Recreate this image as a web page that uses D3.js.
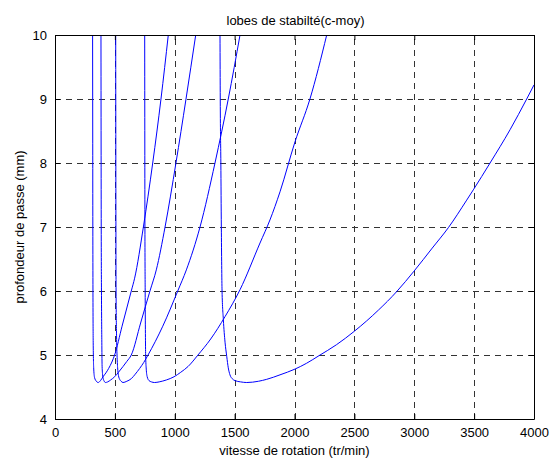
<!DOCTYPE html>
<html><head><meta charset="utf-8">
<script src="https://cdn.jsdelivr.net/npm/d3@7/dist/d3.min.js"></script>
<style>
body{margin:0;background:#fff}
text{font-family:"Liberation Sans",Arial,Helvetica,sans-serif;font-size:13px;fill:#000}
</style>
</head><body>
<svg id="chart" width="550" height="460"></svg>
<script>
// ---- data ----
const xTickValues = [0, 500, 1000, 1500, 2000, 2500, 3000, 3500, 4000];
const yTickValues = [4, 5, 6, 7, 8, 9, 10];
const titleText = "lobes de stabilté(c-moy)";
const xLabelText = "vitesse de rotation (tr/min)";
const yLabelText = "profondeur de passe (mm)";

const lobeA_rpm   = [314, 315, 316, 317, 319, 323, 330, 345, 360, 380, 401, 425, 448, 475, 498, 560, 637, 665, 738, 816, 885, 946];
const lobeA_depth = [10, 8.5, 7, 6, 5.2, 4.8, 4.65, 4.59, 4.57, 4.6, 4.66, 4.72, 4.79, 4.89, 5.0, 5.45, 6.0, 6.2, 7.0, 8.0, 9.0, 10.0];

const lobeB_rpm   = [384, 386, 388, 391, 393, 397, 403, 411, 421, 440, 465, 498, 530, 568, 600, 637, 715, 793, 846, 919, 1010, 1094, 1175];
const lobeB_depth = [10, 7, 6, 5.2, 4.85, 4.7, 4.63, 4.59, 4.57, 4.58, 4.61, 4.66, 4.73, 4.82, 4.9, 5.0, 5.5, 6.0, 6.33, 7.0, 8.0, 9.0, 10.0];

const lobeC_rpm   = [507, 508, 510, 514, 518, 523, 530, 540, 552, 568, 600, 637, 670, 707, 740, 777, 900, 1025, 1097, 1211, 1336, 1447, 1545];
const lobeC_depth = [10, 8, 6, 5.3, 5.0, 4.8, 4.68, 4.62, 4.59, 4.57, 4.59, 4.63, 4.7, 4.79, 4.88, 5.0, 5.45, 6.0, 6.33, 7.0, 8.0, 9.0, 10.0];

const lobeD_rpm   = [749, 751, 753, 757, 762, 770, 785, 805, 832, 870, 930, 994, 1050, 1111, 1194, 1300, 1420, 1545, 1712, 1795, 1879, 2004, 2129, 2269];
const lobeD_depth = [10, 7, 6, 5.0, 4.78, 4.66, 4.6, 4.58, 4.57, 4.58, 4.61, 4.66, 4.73, 4.82, 5.0, 5.25, 5.6, 6.02, 6.75, 7.11, 7.55, 8.33, 9.0, 10.0];

const lobeE_rpm   = [1378, 1380, 1385, 1389, 1395, 1406, 1420, 1434, 1447, 1461, 1480, 1503, 1550, 1601, 1700, 1768, 1879, 2004, 2100, 2205, 2350, 2499, 2700, 2853, 2998, 3150, 3285, 3438, 3493, 3633, 3800, 3939, 4000];
const lobeE_depth = [10, 9, 8, 7, 6.0, 5.55, 5.2, 4.98, 4.8, 4.69, 4.63, 4.6, 4.58, 4.57, 4.59, 4.62, 4.69, 4.78, 4.87, 4.99, 5.16, 5.37, 5.7, 5.99, 6.31, 6.67, 6.99, 7.42, 7.58, 8.0, 8.52, 9.0, 9.22];

const lobes = [
  [lobeA_rpm, lobeA_depth],
  [lobeB_rpm, lobeB_depth],
  [lobeC_rpm, lobeC_depth],
  [lobeD_rpm, lobeD_depth],
  [lobeE_rpm, lobeE_depth]
].map(([r, d]) => r.map((v, i) => ({rpm: v, depth: d[i]})));

// ---- layout ----
const mL = 55, mR = 534, mT = 35, mB = 419;
const svg = d3.select("#chart");
svg.append("rect").attr("width", 550).attr("height", 460).attr("fill", "#fff");

const x = d3.scaleLinear().domain([0, 4000]).range([mL, mR]);
const y = d3.scaleLinear().domain([4, 10]).range([mB, mT]);

svg.append("defs").append("clipPath").attr("id", "clip")
  .append("rect").attr("x", mL).attr("y", mT).attr("width", mR - mL).attr("height", mB - mT);

// grid
const grid = svg.append("g").attr("stroke", "#333").attr("stroke-width", 1)
  .attr("stroke-dasharray", "6,5").attr("shape-rendering", "crispEdges");
grid.selectAll(".gx").data(xTickValues.slice(1, -1)).enter().append("line")
  .attr("x1", d => Math.round(x(d)) + 0.5).attr("x2", d => Math.round(x(d)) + 0.5)
  .attr("y1", mB).attr("y2", mT);
grid.selectAll(".gy").data(yTickValues.slice(1, -1)).enter().append("line")
  .attr("y1", d => Math.round(y(d)) + 0.5).attr("y2", d => Math.round(y(d)) + 0.5)
  .attr("x1", mL).attr("x2", mR);

// curves
const line = d3.line().x(d => x(d.rpm)).y(d => y(d.depth)).curve(d3.curveMonotoneX);
svg.append("g").attr("clip-path", "url(#clip)")
  .selectAll("path").data(lobes).enter().append("path")
  .attr("d", line).attr("fill", "none").attr("stroke", "#0000ff").attr("stroke-width", 1);

// axes (MATLAB style: inward ticks on all four sides)
const fmt = d3.format("d");
const axB = d3.axisBottom(x).tickValues(xTickValues).tickFormat(fmt).tickSizeInner(-5).tickSizeOuter(0).tickPadding(9);
const axT = d3.axisTop(x).tickValues(xTickValues).tickSizeInner(-5).tickSizeOuter(0).tickFormat("");
const axL = d3.axisLeft(y).tickValues(yTickValues).tickFormat(fmt).tickSizeInner(-5).tickSizeOuter(0).tickPadding(8);
const axR = d3.axisRight(y).tickValues(yTickValues).tickSizeInner(-5).tickSizeOuter(0).tickFormat("");

function styleAxis(g) {
  g.selectAll("path.domain").attr("stroke", "#000");
  g.selectAll(".tick line").attr("stroke", "#000");
  g.selectAll(".tick text").attr("font-family", "Liberation Sans, Arial, sans-serif")
    .attr("font-size", 13).attr("fill", "#000");
}
svg.append("g").attr("transform", `translate(0,${mB})`).call(axB).call(styleAxis);
svg.append("g").attr("transform", `translate(0,${mT})`).call(axT).call(styleAxis);
svg.append("g").attr("transform", `translate(${mL},0)`).call(axL).call(styleAxis);
svg.append("g").attr("transform", `translate(${mR},0)`).call(axR).call(styleAxis);

// titles
svg.append("text").attr("x", (mL + mR) / 2 + 1).attr("y", 25).attr("text-anchor", "middle").text(titleText);
svg.append("text").attr("x", (mL + mR) / 2).attr("y", 455).attr("text-anchor", "middle").text(xLabelText);
svg.append("text").attr("transform", `translate(24,${(mT + mB) / 2}) rotate(-90)`)
  .attr("text-anchor", "middle").text(yLabelText);
</script>
</body></html>
